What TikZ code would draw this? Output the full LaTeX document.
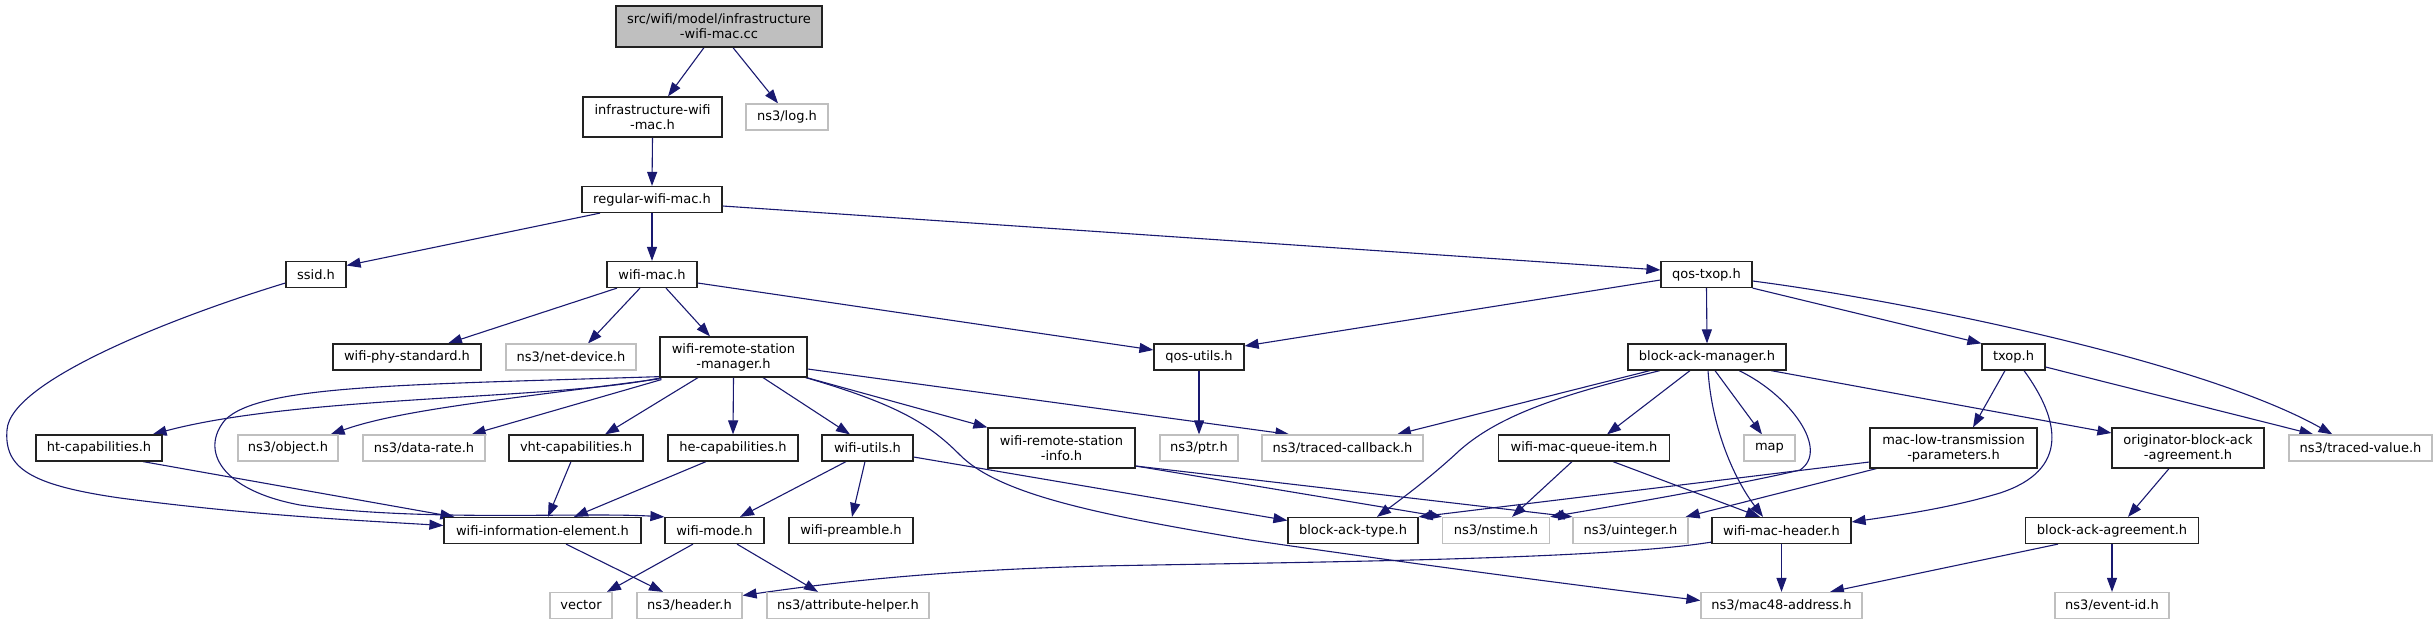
\documentclass[tikz,border=0pt]{standalone}
\usepackage{fontspec}
\setmainfont{DejaVu Sans}
\usetikzlibrary{arrows.meta,calc}
\definecolor{edgec}{HTML}{191970}
\definecolor{extc}{HTML}{BFBFBF}
\definecolor{rootc}{HTML}{BFBFBF}
\definecolor{bordc}{HTML}{222222}
\pgfdeclarelayer{bg}
\pgfsetlayers{bg,main}
\tikzset{
  nd/.style={draw=bordc, line width=1.2pt, fill=white, inner sep=0pt, align=center,
    font=\fontsize{13}{15}\selectfont, text=black},
  ext/.style={nd, draw=extc},
  rootnd/.style={nd, fill=rootc},
  s1/.style={minimum height=26pt},
  s2/.style={minimum height=40pt},
  e/.style={draw=edgec, line width=1.1pt, -{Triangle[length=14pt,width=10pt]}}
}
\begin{document}
\begin{tikzpicture}[x=1pt,y=-1pt]
\useasboundingbox (0,0) rectangle (2436,624);
% row 0-2
\node[rootnd, minimum width=206pt, minimum height=41pt] (root) at (719,26.5) {src/wifi/model/infrastructure\\-wifi-mac.cc};
\node[nd, s2, minimum width=139pt] (infra) at (652.5,117) {infrastructure-wifi\\-mac.h};
\node[ext, s1, minimum width=82pt] (log) at (787,117) {ns3/log.h};
\node[nd, s1, minimum width=140pt] (regular) at (652,199.5) {regular-wifi-mac.h};
\node[nd, s1, minimum width=60pt] (ssid) at (316,274.5) {ssid.h};
\node[nd, s1, minimum width=90pt] (wifimac) at (652,274.5) {wifi-mac.h};
\node[nd, s1, minimum width=91pt] (qostxop) at (1706.5,274.5) {qos-txop.h};
% row 3
\node[nd, s1, minimum width=148pt] (phystd) at (407,357) {wifi-phy-standard.h};
\node[ext, s1, minimum width=130pt] (netdev) at (571,357) {ns3/net-device.h};
\node[nd, s2, minimum width=147pt] (wrsm) at (733.5,357) {wifi-remote-station\\-manager.h};
\node[nd, s1, minimum width=90pt] (qosutils) at (1199,357) {qos-utils.h};
\node[nd, s1, minimum width=158pt] (bam) at (1707,357) {block-ack-manager.h};
\node[nd, s1, minimum width=63pt] (txop) at (2013.5,357) {txop.h};
% row 4
\node[nd, s1, minimum width=126pt] (htcap) at (99,448) {ht-capabilities.h};
\node[ext, s1, minimum width=100pt] (object) at (288,448) {ns3/object.h};
\node[ext, s1, minimum width=122pt] (datarate) at (424,448) {ns3/data-rate.h};
\node[nd, s1, minimum width=134pt] (vht) at (576,448) {vht-capabilities.h};
\node[nd, s1, minimum width=130pt] (he) at (733,448) {he-capabilities.h};
\node[nd, s1, minimum width=91pt] (wutils) at (867.5,448) {wifi-utils.h};
\node[nd, s2, minimum width=147pt] (wrsi) at (1061.5,448) {wifi-remote-station\\-info.h};
\node[ext, s1, minimum width=78pt] (ptr) at (1199,448) {ns3/ptr.h};
\node[ext, s1, minimum width=161pt] (tcb) at (1342.5,448) {ns3/traced-callback.h};
\node[nd, s1, minimum width=171pt] (wmqi) at (1584,448) {wifi-mac-queue-item.h};
\node[ext, s1, minimum width=51pt] (map) at (1769.5,448) {map};
\node[nd, s2, minimum width=167pt] (mltp) at (1953.5,448) {mac-low-transmission\\-parameters.h};
\node[nd, s2, minimum width=152pt] (obaa) at (2188,448) {originator-block-ack\\-agreement.h};
\node[ext, s1, minimum width=143pt] (tval) at (2360.5,448) {ns3/traced-value.h};
% row 5
\node[nd, s1, minimum width=197pt] (wie) at (542.5,530.5) {wifi-information-element.h};
\node[nd, s1, minimum width=99pt] (wmode) at (714.5,530.5) {wifi-mode.h};
\node[nd, s1, minimum width=124pt] (preamble) at (851,530.5) {wifi-preamble.h};
\node[nd, s1, minimum width=130pt] (batype) at (1353,530.5) {block-ack-type.h};
\node[ext, s1, minimum width=107pt] (nstime) at (1496,530.5) {ns3/nstime.h};
\node[ext, s1, minimum width=115pt] (uint) at (1630.5,530.5) {ns3/uinteger.h};
\node[nd, s1, minimum width=139pt] (wmh) at (1781.5,530.5) {wifi-mac-header.h};
\node[nd, s1, minimum width=173pt] (baa) at (2112,530.5) {block-ack-agreement.h};
% row 6
\node[ext, s1, minimum width=62pt] (vector) at (581,605.5) {vector};
\node[ext, s1, minimum width=105pt] (header) at (689.5,605.5) {ns3/header.h};
\node[ext, s1, minimum width=162pt] (attr) at (848,605.5) {ns3/attribute-helper.h};
\node[ext, s1, minimum width=161pt] (mac48) at (1781.5,605.5) {ns3/mac48-address.h};
\node[ext, s1, minimum width=114pt] (eventid) at (2112,605.5) {ns3/event-id.h};

\begin{pgfonlayer}{bg}
\draw[e] ($(root.south)+(-15,0)$) -- ($(infra.north)+(15.5,0)$);
\draw[e] ($(root.south)+(14,0)$) -- ($(log.north)+(-9,0)$);
\draw[e] (infra.south) -- (regular.north);
\draw[e] ($(regular.south)+(-52,0)$) -- ($(ssid.east)+(0,-9)$);
\draw[e] (regular.south) -- (wifimac.north);
\draw[e] ($(regular.east)+(0,6.5)$) -- ($(qostxop.west)+(0,-4.5)$);
\draw[e] ($(ssid.west)+(0,8.5)$) .. controls (180,315) and (10,380) .. (7,430)
   .. controls (4,468) and (30,485) .. (120,498) .. controls (250,515) and (350,520) .. ($(wie.west)+(0,-5)$);
\draw[e] ($(wifimac.south)+(-35,0)$) -- ($(phystd.north)+(41,0)$);
\draw[e] ($(wifimac.south)+(-12,0)$) -- ($(netdev.north)+(17,0)$);
\draw[e] ($(wifimac.south)+(14,0)$) -- ($(wrsm.north)+(-23.5,0)$);
\draw[e] ($(wifimac.east)+(0,8.5)$) -- ($(qosutils.west)+(0,-7)$);
\draw[e] ($(qostxop.west)+(0,5.5)$) -- ($(qosutils.east)+(0,-11)$);
\draw[e] (qostxop.south) -- (bam.north);
\draw[e] (qostxop.south east) -- (txop.north west);
\draw[e] ($(qostxop.east)+(0,6.5)$) .. controls (1900,300) and (2200,360) .. ($(tval.north west)+(44,0)$);
\draw[e] ($(txop.east)+(0,10)$) -- ($(tval.north west)+(25,0)$);
\draw[e] ($(txop.south)+(-8.5,0)$) -- ($(mltp.north)+(19.5,0)$);
\draw[e] ($(txop.south)+(10.5,0)$) .. controls (2060,420) and (2070,470) .. (2000,493)
   .. controls (1950,508) and (1900,515) .. ($(wmh.east)+(0,-8.5)$);
\draw[e] ($(bam.south)+(-57,0)$) -- ($(tcb.north)+(54.5,0)$);
\draw[e] ($(bam.south)+(-47,0)$) .. controls (1560,395) and (1500,415) .. (1460,450)
   .. controls (1430,478) and (1400,500) .. ($(batype.north)+(24,0)$);
\draw[e] ($(bam.south)+(-17,0)$) -- ($(wmqi.north)+(23,0)$);
\draw[e] ($(bam.south)+(8,0)$) -- ($(map.north)+(-7.5,0)$);
\draw[e] ($(bam.south)+(1,0)$) .. controls (1712,430) and (1735,480) .. ($(wmh.north)+(-18.5,0)$);
\draw[e] ($(bam.south)+(32,0)$) .. controls (1790,395) and (1830,450) .. (1800,470)
   .. controls (1750,482) and (1650,500) .. (nstime.north east);
\draw[e] ($(bam.south)+(64,0)$) -- ($(obaa.west)+(0,-15)$);
\draw[e] ($(mltp.west)+(0,14)$) -- (batype.north east);
\draw[e] ($(mltp.south west)+(7,0)$) -- ($(uint.north east)+(-3,0)$);
\draw[e] ($(obaa.south)+(-19,0)$) -- ($(baa.north)+(16,0)$);
\draw[e] ($(baa.south)+(-54,0)$) -- ($(mac48.north)+(48.5,0)$);
\draw[e] (baa.south) -- (eventid.north);
\draw[e] (wmh.south) -- (mac48.north);
\draw[e] ($(wmh.south west)+(0,-2)$) .. controls (1600,560) and (1300,562) .. (1100,566)
   .. controls (950,570) and (850,580) .. ($(header.east)+(0,-10)$);
\draw[e] ($(wrsm.south east)+(-2,0)$) .. controls (900,405) and (930,425) .. (960,455)
   .. controls (1000,495) and (1100,515) .. (1250,540)
   .. controls (1400,562) and (1550,582) .. ($(mac48.west)+(0,-5)$);
\draw[e] ($(wrsm.south west)+(2,0)$) .. controls (560,400) and (300,395) .. ($(htcap.north east)+(-10,0)$);
\draw[e] ($(wrsm.south west)+(2,1)$) .. controls (500,400) and (400,410) .. ($(object.north east)+(-8,0)$);
\draw[e] ($(wrsm.south west)+(2,2)$) -- ($(datarate.north east)+(-14,0)$);
\draw[e] ($(wrsm.south west)+(1,-1)$) .. controls (400,385) and (260,385) .. (225,420)
   .. controls (200,450) and (220,490) .. (300,505)
   .. controls (420,522) and (580,512) .. (wmode.north west);
\draw[e] ($(wrsm.south)+(-35.5,0)$) -- ($(vht.north)+(29,0)$);
\draw[e] (wrsm.south) -- (he.north);
\draw[e] ($(wrsm.south)+(29.5,0)$) -- ($(wutils.north)+(-17.5,0)$);
\draw[e] ($(wrsm.south east)+(-1,0)$) -- (wrsi.north west);
\draw[e] ($(wrsm.east)+(0,12)$) -- ($(tcb.north west)+(28,0)$);
\draw[e] ($(htcap.south)+(44,0)$) -- ($(wie.north west)+(11,0)$);
\draw[e] ($(vht.south)+(-5,0)$) -- ($(wie.north)+(5.5,0)$);
\draw[e] ($(he.south)+(-27,0)$) -- ($(wie.north)+(31.5,0)$);
\draw[e] ($(wutils.south)+(-21.5,0)$) -- ($(wmode.north)+(25.5,0)$);
\draw[e] ($(wutils.south)+(-2.5,0)$) -- ($(preamble.north)+(1,0)$);
\draw[e] ($(wutils.east)+(0,9)$) -- ($(batype.west)+(0,-10)$);
\draw[e] ($(wrsi.east)+(0,18)$) -- (nstime.north west);
\draw[e] ($(wrsi.east)+(0,18)$) -- (uint.north west);
\draw[e] (qosutils.south) -- (ptr.north);
\draw[e] ($(wmqi.south)+(-12,0)$) -- ($(nstime.north)+(16,0)$);
\draw[e] ($(wmqi.south)+(29,0)$) -- ($(wmh.north)+(-21.5,0)$);
\draw[e] ($(wie.south)+(23.5,0)$) -- ($(header.north)+(-26.5,0)$);
\draw[e] ($(wmode.south)+(-21.5,0)$) -- ($(vector.north)+(26,0)$);
\draw[e] ($(wmode.south)+(22.5,0)$) -- ($(attr.north)+(-30,0)$);
\end{pgfonlayer}
\end{tikzpicture}
\end{document}
